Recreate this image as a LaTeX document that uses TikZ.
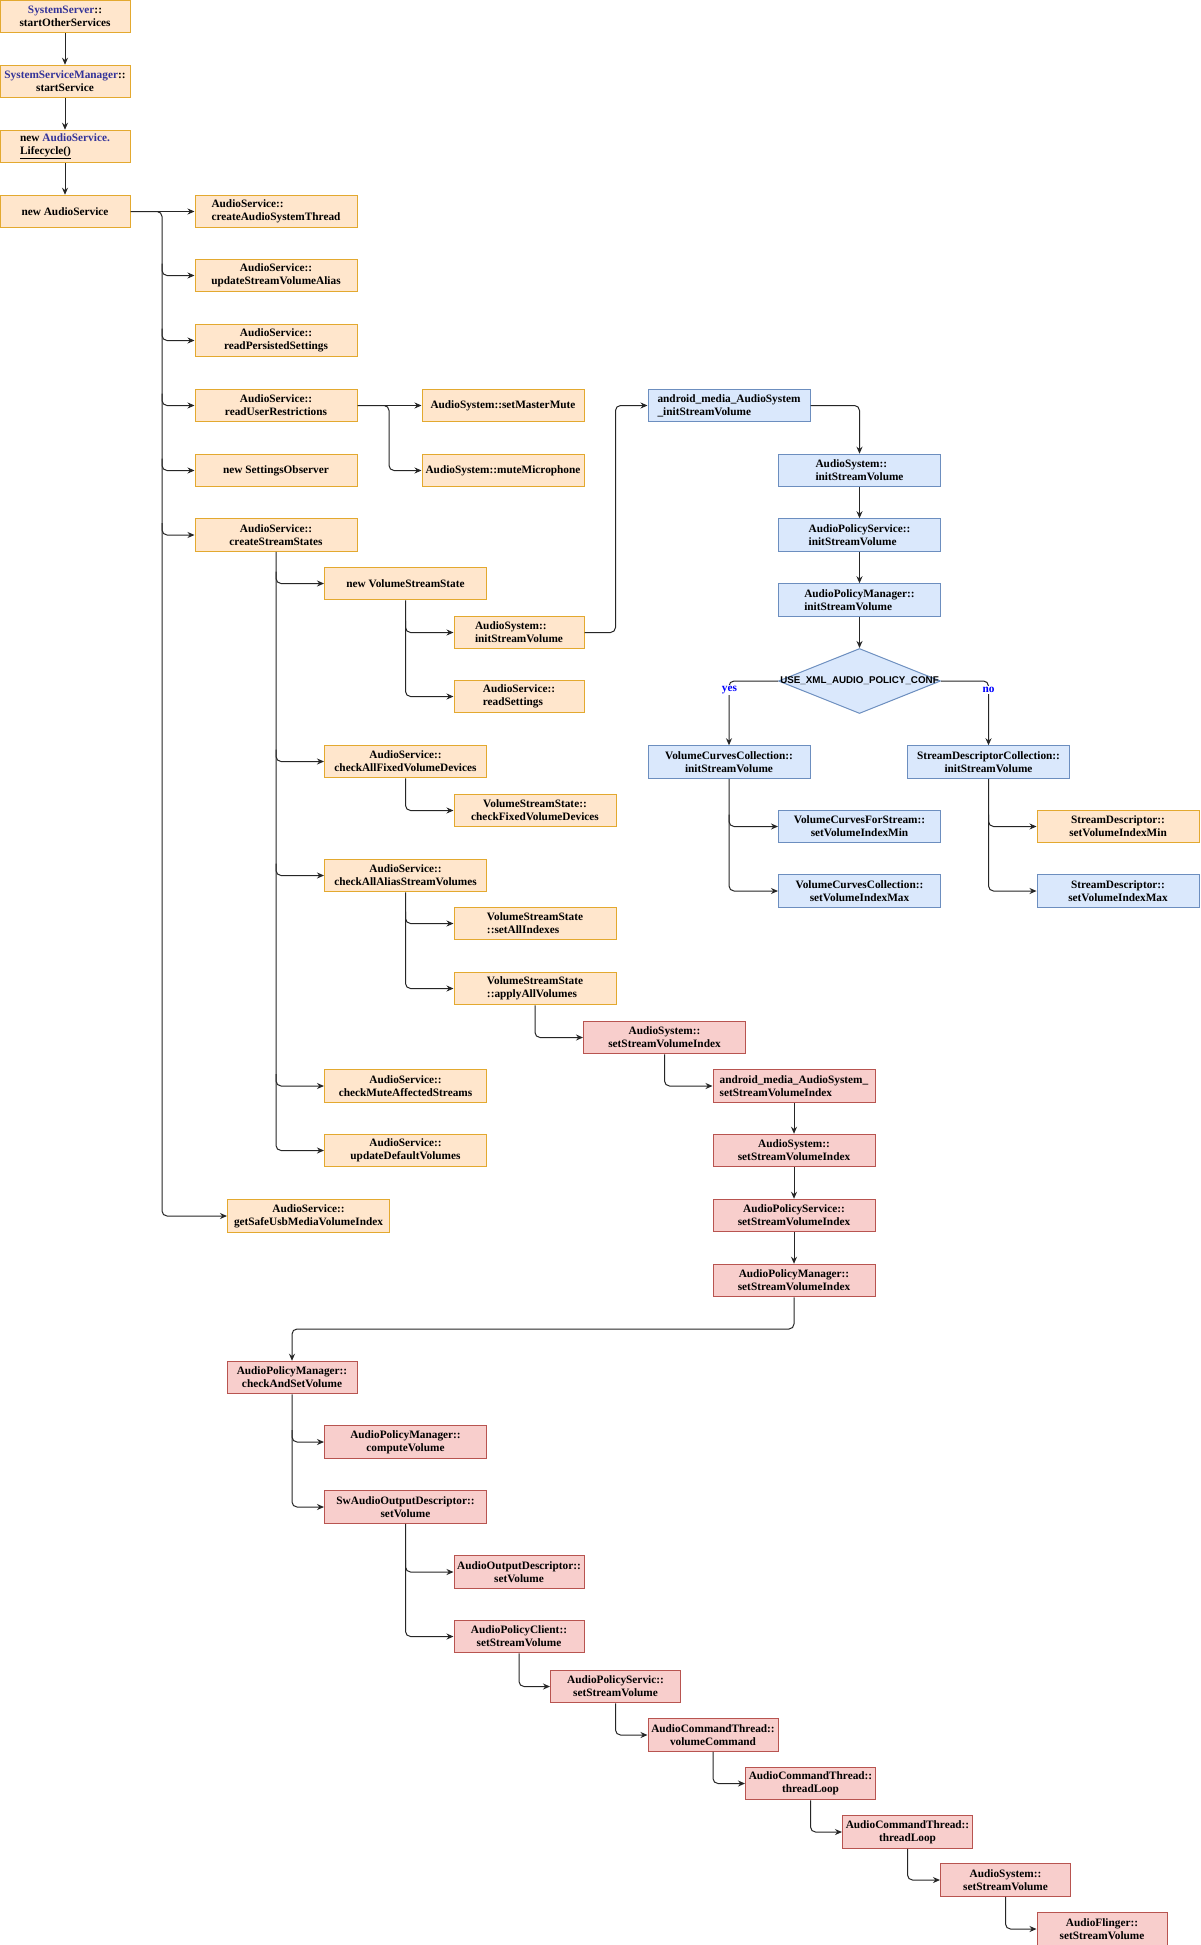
\documentclass[tikz,border=0pt]{standalone}
\usepackage{fontspec}
\setmainfont{Liberation Serif}
\newfontfamily\diafont{Liberation Sans}
\usetikzlibrary{arrows.meta,shapes.geometric,calc}
\definecolor{ofill}{HTML}{FFE6CC}
\definecolor{odraw}{HTML}{E3A92F}
\definecolor{bfill}{HTML}{DAE8FC}
\definecolor{bdraw}{HTML}{6C8EBF}
\definecolor{rfill}{HTML}{F8CECC}
\definecolor{rdraw}{HTML}{B85450}
\definecolor{tblue}{HTML}{333399}
\tikzset{
  box/.style={draw, line width=1pt, inner sep=2pt, minimum height=32.5pt,
    font=\bfseries\fontsize{11.3}{12.9}\selectfont, align=center},
  ob/.style={box, fill=ofill, draw=odraw},
  bb/.style={box, fill=bfill, draw=bdraw},
  rb/.style={box, fill=rfill, draw=rdraw},
  wa/.style={minimum width=130pt},
  wb/.style={minimum width=162pt},
  lft/.style={align=left},
  arr/.style={-{Stealth[length=7pt,width=6pt]}, line width=1pt, draw=black!85, rounded corners=5pt},
  lin/.style={line width=1pt, draw=black!85, rounded corners=5pt},
  lbl/.style={fill=white, inner sep=1pt, text=blue, font=\bfseries\fontsize{11.3}{12.7}\selectfont},
}
\begin{document}
\begin{tikzpicture}[x=1pt,y=-1pt]
\fill[white] (0,0) rectangle (1200,1945);
\useasboundingbox (0,0) rectangle (1200,1945);

% left column
\node[ob,wa] (n1) at (65,16.5) {{\color{tblue}SystemServer}::\\startOtherServices};
\node[ob,wa] (n2) at (65,81.5) {{\color{tblue}SystemServiceManager}::\\startService};
\node[ob,wa,lft] (n3) at (65,146.5) {new {\color{tblue}AudioService.}\\\underline{Lifecycle()}};
\node[ob,wa] (n4) at (65,211.5) {new AudioService};

% column 2
\node[ob,wb,lft] (a1) at (276,211.5) {AudioService::\\createAudioSystemThread};
\node[ob,wb] (a2) at (276,275.5) {AudioService::\\updateStreamVolumeAlias};
\node[ob,wb] (a3) at (276,340.5) {AudioService::\\readPersistedSettings};
\node[ob,wb] (a4) at (276,405.5) {AudioService::\\readUserRestrictions};
\node[ob,wb] (a5) at (276,470.5) {new SettingsObserver};
\node[ob,wb] (a6) at (276,535) {AudioService::\\createStreamStates};

\node[ob,wb] (m1) at (503,405.5) {AudioSystem::setMasterMute};
\node[ob,wb] (m2) at (503,470.5) {AudioSystem::muteMicrophone};

% column 3
\node[ob,wb] (v1) at (405.5,583.5) {new VolumeStreamState};
\node[ob,wb] (v2) at (405.5,761.5) {AudioService::\\checkAllFixedVolumeDevices};
\node[ob,wb] (v3) at (405.5,875.5) {AudioService::\\checkAllAliasStreamVolumes};
\node[ob,wb] (v4) at (405.5,1086) {AudioService::\\checkMuteAffectedStreams};
\node[ob,wb] (v5) at (405.5,1150.5) {AudioService::\\updateDefaultVolumes};

% column 4
\node[ob,wa,lft] (s1) at (519,632.5) {AudioSystem::\\initStreamVolume};
\node[ob,wa,lft] (s2) at (519,696.5) {AudioService::\\readSettings};
\node[ob,wb] (s3) at (535,810.5) {VolumeStreamState::\\checkFixedVolumeDevices};
\node[ob,wb,lft] (s4) at (535,923.5) {VolumeStreamState\\::setAllIndexes};
\node[ob,wb,lft] (s5) at (535,988.5) {VolumeStreamState\\::applyAllVolumes};

\node[ob,wb] (g) at (308.5,1216) {AudioService::\\getSafeUsbMediaVolumeIndex};

% blue part
\node[bb,wb,lft] (b1) at (729,405.5) {android\_media\_AudioSystem\\\_initStreamVolume};
\node[bb,wb,lft] (b2) at (859.5,470.5) {AudioSystem::\\initStreamVolume};
\node[bb,wb,lft] (b3) at (859.5,535) {AudioPolicyService::\\initStreamVolume};
\node[bb,wb,lft] (b4) at (859.5,600) {AudioPolicyManager::\\initStreamVolume};
\node[diamond, draw=bdraw, fill=bfill, line width=1pt, inner sep=0pt, minimum width=162pt, minimum height=65pt] (d) at (859.5,681) {};
\node[font=\diafont\bfseries\fontsize{9.8}{11}\selectfont, inner sep=0pt] (dl) at (d.center) {USE\_XML\_AUDIO\_POLICY\_CONF};
\node[bb,wb] (b5) at (729,762) {VolumeCurvesCollection::\\initStreamVolume};
\node[bb,wb] (b6) at (988.5,762) {StreamDescriptorCollection::\\initStreamVolume};
\node[bb,wb] (b7) at (859.5,826.5) {VolumeCurvesForStream::\\setVolumeIndexMin};
\node[bb,wb] (b8) at (859.5,891) {VolumeCurvesCollection::\\setVolumeIndexMax};
\node[ob,wb] (b9) at (1118,826.5) {StreamDescriptor::\\setVolumeIndexMin};
\node[bb,wb] (b10) at (1118,891) {StreamDescriptor::\\setVolumeIndexMax};

% red part
\node[rb,wb] (r1) at (664.5,1037.5) {AudioSystem::\\setStreamVolumeIndex};
\node[rb,wb,lft] (r2) at (794,1086) {android\_media\_AudioSystem\_\\setStreamVolumeIndex};
\node[rb,wb] (r3) at (794,1150.5) {AudioSystem::\\setStreamVolumeIndex};
\node[rb,wb] (r4) at (794,1215.5) {AudioPolicyService::\\setStreamVolumeIndex};
\node[rb,wb] (r5) at (794,1280.5) {AudioPolicyManager::\\setStreamVolumeIndex};
\node[rb,wa] (r6) at (292,1377.5) {AudioPolicyManager::\\checkAndSetVolume};
\node[rb,wb] (r7) at (405.5,1442) {AudioPolicyManager::\\computeVolume};
\node[rb,wb] (r8) at (405.5,1507) {SwAudioOutputDescriptor::\\setVolume};
\node[rb,wa] (r9) at (519,1572) {AudioOutputDescriptor::\\setVolume};
\node[rb,wa] (r10) at (519,1636.5) {AudioPolicyClient::\\setStreamVolume};
\node[rb,wa] (r11) at (615.5,1686.5) {AudioPolicyServic::\\setStreamVolume};
\node[rb,wa] (r12) at (713,1735) {AudioCommandThread::\\volumeCommand};
\node[rb,wa] (r13) at (810.5,1783.5) {AudioCommandThread::\\threadLoop};
\node[rb,wa] (r14) at (907.5,1832) {AudioCommandThread::\\threadLoop};
\node[rb,wa] (r15) at (1005.5,1880) {AudioSystem::\\setStreamVolume};
\node[rb,wa] (r16) at (1102,1929) {AudioFlinger::\\setStreamVolume};

% junction coordinates
\coordinate (t1) at (162,211.5);
\coordinate (t2) at (389,405.5);
\coordinate (t3) at (615.5,632.5);
\coordinate (t4) at (794,1329);

% connectors
\draw[arr] (n1) -- (n2);
\draw[arr] (n2) -- (n3);
\draw[arr] (n3) -- (n4);
\draw[arr] (n4) -- (a1);
% trunk from new AudioService
\draw[arr] (n4.east) -- (t1) |- (g.west);
\foreach \t in {a2,a3,a4,a5,a6} \draw[arr] ($(t1|-\t.west)+(0,-12)$) |- (\t.west);
\draw[arr] (a4) -- (m1);
\draw[arr] (a4.east) -- (t2) |- (m2.west);
% trunk from createStreamStates
\draw[arr] (a6.south) |- (v5.west);
\foreach \t in {v1,v2,v3,v4} \draw[arr] ($(a6.south|-\t.west)+(0,-12)$) |- (\t.west);
\draw[arr] (v1.south) |- (s2.west);
\draw[arr] ($(v1.south|-s1.west)+(0,-12)$) |- (s1.west);
\draw[arr] (v2.south) |- (s3.west);
\draw[arr] (v3.south) |- (s5.west);
\draw[arr] ($(v3.south|-s4.west)+(0,-12)$) |- (s4.west);
\draw[arr] (s1.east) -- (t3) |- (b1.west);
\draw[arr] (b1.east) -| (b2.north);
\draw[arr] (b2) -- (b3);
\draw[arr] (b3) -- (b4);
\draw[arr] (b4) -- (d);
\draw[arr] (d.west) -| (b5.north);
\draw[arr] (d.east) -| (b6.north);
\node[lbl] (yes) at (729.5,690) {yes};
\node[lbl] (no) at (988.5,690) {no};
\draw[arr] (b5.south) |- (b8.west);
\draw[arr] ($(b5.south|-b7.west)+(0,-12)$) |- (b7.west);
\draw[arr] (b6.south) |- (b10.west);
\draw[arr] ($(b6.south|-b9.west)+(0,-12)$) |- (b9.west);
\draw[arr] (s5.south) |- (r1.west);
\draw[arr] (r1.south) |- (r2.west);
\draw[arr] (r2) -- (r3);
\draw[arr] (r3) -- (r4);
\draw[arr] (r4) -- (r5);
\draw[arr] (r5.south) -- (t4) -| (r6.north);
\draw[arr] (r6.south) |- (r8.west);
\draw[arr] ($(r6.south|-r7.west)+(0,-12)$) |- (r7.west);
\draw[arr] (r8.south) |- (r10.west);
\draw[arr] ($(r8.south|-r9.west)+(0,-12)$) |- (r9.west);
\draw[arr] (r10.south) |- (r11.west);
\draw[arr] (r11.south) |- (r12.west);
\draw[arr] (r12.south) |- (r13.west);
\draw[arr] (r13.south) |- (r14.west);
\draw[arr] (r14.south) |- (r15.west);
\draw[arr] (r15.south) |- (r16.west);
\end{tikzpicture}
\end{document}
